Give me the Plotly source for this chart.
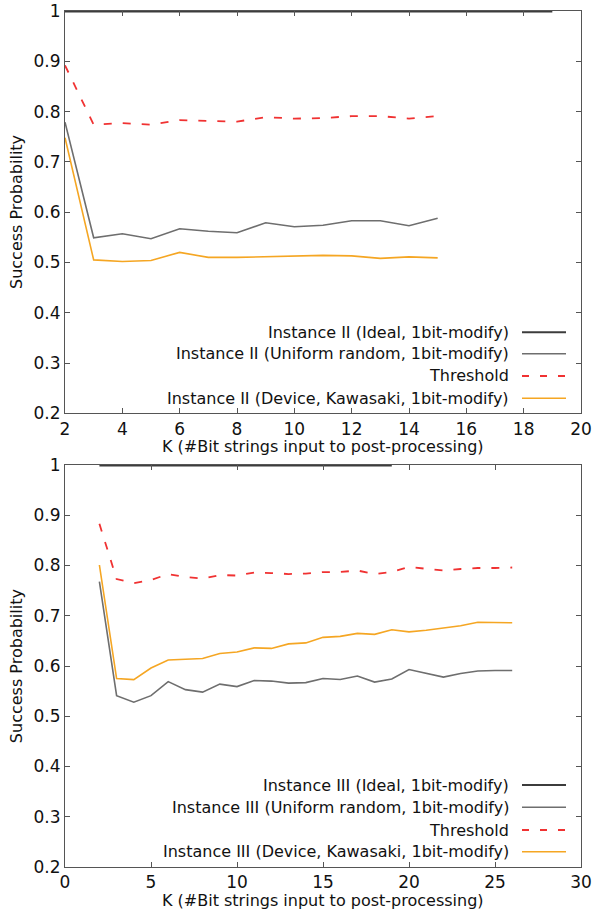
import plotly.graph_objects as go

# ---------------- data ----------------
k_top = [2, 3, 4, 5, 6, 7, 8, 9, 10, 11, 12, 13, 14, 15]
ideal_top_k = [2, 19]
ideal_top = [1.0, 1.0]
uniform_top = [0.779, 0.549, 0.557, 0.547, 0.567, 0.562, 0.559, 0.579, 0.571, 0.574, 0.583, 0.583, 0.573, 0.588]
threshold_top = [0.892, 0.774, 0.777, 0.774, 0.783, 0.781, 0.780, 0.789, 0.786, 0.787, 0.791, 0.791, 0.786, 0.791]
device_top = [0.748, 0.505, 0.502, 0.504, 0.520, 0.510, 0.510, 0.511, 0.513, 0.514, 0.513, 0.508, 0.511, 0.509]

k_bot = list(range(2, 27))
ideal_bot_k = [2, 19]
ideal_bot = [1.0, 1.0]
uniform_bot = [0.768, 0.541, 0.528, 0.541, 0.569, 0.553, 0.548, 0.564, 0.559, 0.571, 0.570, 0.566, 0.567,
               0.575, 0.573, 0.580, 0.568, 0.574, 0.593, 0.586, 0.578, 0.585, 0.590, 0.591, 0.591]
threshold_bot = [0.883, 0.773, 0.765, 0.771, 0.783, 0.777, 0.774, 0.781, 0.780, 0.786, 0.785, 0.783, 0.784,
                 0.787, 0.787, 0.790, 0.783, 0.787, 0.797, 0.793, 0.790, 0.793, 0.795, 0.795, 0.796]
device_bot = [0.801, 0.575, 0.573, 0.596, 0.612, 0.613, 0.615, 0.625, 0.628, 0.636, 0.635, 0.644, 0.646,
              0.657, 0.659, 0.665, 0.663, 0.672, 0.668, 0.671, 0.675, 0.680, 0.687, 0.687, 0.686]

legend_top = ["Instance II (Ideal, 1bit-modify)", "Instance II (Uniform random, 1bit-modify)",
              "Threshold", "Instance II (Device, Kawasaki, 1bit-modify)"]
legend_bot = ["Instance III (Ideal, 1bit-modify)", "Instance III (Uniform random, 1bit-modify)",
              "Threshold", "Instance III (Device, Kawasaki, 1bit-modify)"]

y_ticks = [0.2, 0.3, 0.4, 0.5, 0.6, 0.7, 0.8, 0.9, 1.0]
x_ticks_top = [2, 4, 6, 8, 10, 12, 14, 16, 18, 20]
x_ticks_bot = [0, 5, 10, 15, 20, 25, 30]

# ---------------- styles ----------------
W, H = 595, 910
ML, MR, MT, MB = 65, 14, 11, 43
FONT = "DejaVu Sans"
TXT = "#111111"
C_IDEAL = "#3c3c3c"
C_UNI = "#6e6e6e"
C_THR = "#f03232"
C_DEV = "#f5a623"
AXC = "#555555"

styles = [
    dict(color=C_IDEAL, width=3),
    dict(color=C_UNI, width=1.6),
    dict(color=C_THR, width=1.8, dash="8px,11px"),
    dict(color=C_DEV, width=1.6),
]

fig = go.Figure()

def add_set(xa, ya, kk, ik, iv, u, t, d):
    fig.add_trace(go.Scatter(x=kk, y=u, mode="lines", line=styles[1], xaxis=xa, yaxis=ya, cliponaxis=False))
    fig.add_trace(go.Scatter(x=kk, y=t, mode="lines", line=styles[2], xaxis=xa, yaxis=ya, cliponaxis=False))
    fig.add_trace(go.Scatter(x=kk, y=d, mode="lines", line=styles[3], xaxis=xa, yaxis=ya, cliponaxis=False))
    fig.add_trace(go.Scatter(x=ik, y=iv, mode="lines", line=styles[0], xaxis=xa, yaxis=ya, cliponaxis=False))

add_set("x", "y", k_top, ideal_top_k, ideal_top, uniform_top, threshold_top, device_top)
add_set("x2", "y2", k_bot, ideal_bot_k, ideal_bot, uniform_bot, threshold_bot, device_bot)

plot_h = H - MT - MB
def py(p):  # pixel y -> paper
    return 1 - (p - MT) / plot_h
def px(p):
    return (p - ML) / (W - ML - MR)
def clamp(v):
    return max(0.0, min(1.0, v))

top_dom = [clamp(py(413.3)), clamp(py(10.7))]
bot_dom = [clamp(py(867.3)), clamp(py(465))]

axis_common = dict(showline=True, linecolor=AXC, linewidth=1, mirror="ticks", ticks="inside",
                   ticklen=5, tickcolor=AXC, tickwidth=1, showgrid=False, zeroline=False,
                   automargin=False,
                   tickfont=dict(family=FONT, size=17, color=TXT))

fig.update_layout(
    width=W, height=H, margin=dict(l=ML, r=MR, t=MT, b=MB, autoexpand=False),
    paper_bgcolor="white", plot_bgcolor="white", showlegend=False,
    xaxis=dict(range=[2, 20], tickvals=x_ticks_top, anchor="y", domain=[0, 1], **axis_common),
    yaxis=dict(range=[0.2, 1.0], tickvals=y_ticks, anchor="x", domain=top_dom, **axis_common),
    xaxis2=dict(range=[0, 30], tickvals=x_ticks_bot, anchor="y2", domain=[0, 1], **axis_common),
    yaxis2=dict(range=[0.2, 1.0], tickvals=y_ticks, anchor="x2", domain=bot_dom, **axis_common),
)

annotations = []
shapes = []
# axis titles
for ymid, ytitle in [((10.7 + 413.3) / 2, 446), ((465 + 867.3) / 2, 900)]:
    annotations.append(dict(text="Success Probability", x=px(16), y=py(ymid), xref="paper", yref="paper",
                            showarrow=False, textangle=-90, xanchor="center", yanchor="middle",
                            font=dict(family=FONT, size=16, color=TXT)))
    annotations.append(dict(text="K (#Bit strings input to post-processing)", x=px(323), y=py(ytitle),
                            xref="paper", yref="paper", showarrow=False, xanchor="center", yanchor="middle",
                            font=dict(family=FONT, size=16, color=TXT)))

# legends
for labels, rows in [(legend_top, [332.3, 353.8, 376, 398.3]), (legend_bot, [785, 807.3, 830, 851.7])]:
    for i, (lab, r) in enumerate(zip(labels, rows)):
        annotations.append(dict(text=lab, x=px(511), y=py(r), xref="paper", yref="paper", showarrow=False,
                                xanchor="right", yanchor="middle", font=dict(family=FONT, size=16, color=TXT)))
        st = dict(styles[i])
        if i == 0:
            st["width"] = 2
        if "dash" in st:
            st["dash"] = "7px,11px"
        shapes.append(dict(type="line", x0=px(522), x1=px(566), y0=py(r), y1=py(r), xref="paper", yref="paper",
                           line=st))

fig.update_layout(annotations=annotations, shapes=shapes)
fig.write_html("out.html", config={"displayModeBar": False},
               post_script="document.body.style.margin='0';document.body.style.padding='0';"
                           "document.body.style.overflow='hidden';")
